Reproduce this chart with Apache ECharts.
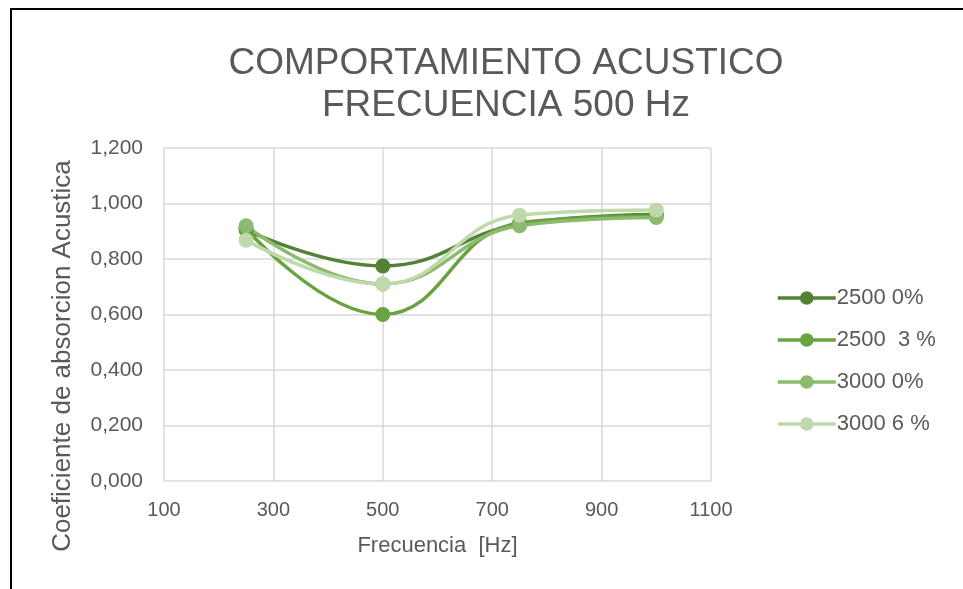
<!DOCTYPE html>
<html><head><meta charset="utf-8">
<script src="https://cdn.jsdelivr.net/npm/echarts@6/dist/echarts.min.js"></script>
<style>html,body{margin:0;padding:0;background:#fff}#c{width:963px;height:589px}</style>
</head><body><div id="c"></div>
<script>
const freqs = [250, 500, 750, 1000];
const s2500_0 = [0.905, 0.775, 0.925, 0.960];
const s2500_3 = [0.910, 0.600, 0.930, 0.955];
const s3000_0 = [0.920, 0.710, 0.920, 0.950];
const s3000_6 = [0.868, 0.710, 0.958, 0.977];
const seriesNames = ['2500 0%', '2500  3 %', '3000 0%', '3000 6 %'];
const seriesColors = ['#548235', '#68a340', '#8cbb70', '#bfd9ad'];
const seriesData = [s2500_0, s2500_3, s3000_0, s3000_6];

const chart = echarts.init(document.getElementById('c'));
const txt = '#595959';
chart.setOption({
  animation: false,
  backgroundColor: '#fff',
  title: {
    text: 'COMPORTAMIENTO ACUSTICO\nFRECUENCIA 500 Hz',
    left: 501, top: 38, textAlign: 'center',
    textStyle: {fontFamily: 'Liberation Sans', fontSize: 37, fontWeight: 'normal', color: txt, lineHeight: 42, align: 'center'}
  },
  graphic: [
    {type: 'rect', shape: {x: 11, y: 9, width: 1000, height: 700}, style: {fill: 'none', stroke: '#000', lineWidth: 2}, silent: true},
    {type: 'text', x: 63, y: 356, rotation: Math.PI / 2,
     style: {text: 'Coeficiente de absorcion Acustica', fontFamily: 'Liberation Sans', fontSize: 26, fill: txt, align: 'center', verticalAlign: 'middle'}}
  ],
  legend: {
    orient: 'vertical', left: 771, top: 282, itemGap: 20, itemWidth: 58, itemHeight: 17,
    data: seriesNames,
    lineStyle: {width: 3.5},
    textStyle: {fontFamily: 'Liberation Sans', fontSize: 22, color: txt, padding: [0, 0, 0, -4]}
  },
  grid: {left: 164, right: 252, top: 148, bottom: 108, containLabel: false},
  xAxis: {
    type: 'value', min: 100, max: 1100, interval: 200,
    name: 'Frecuencia  [Hz]', nameLocation: 'middle', nameGap: 54,
    nameTextStyle: {fontFamily: 'Liberation Sans', fontSize: 22, color: txt},
    axisLine: {show: false}, axisTick: {show: false},
    axisLabel: {fontFamily: 'Liberation Sans', fontSize: 20, color: txt, margin: 19, formatter: v => String(v)},
    splitLine: {show: true, lineStyle: {color: '#d9d9d9', width: 1.5}}
  },
  yAxis: {
    type: 'value', min: 0, max: 1.2, interval: 0.2,
    axisLine: {show: false}, axisTick: {show: false},
    axisLabel: {fontFamily: 'Liberation Sans', fontSize: 21, color: txt, margin: 21,
      formatter: v => v.toFixed(3).replace('.', ',')},
    splitLine: {show: true, lineStyle: {color: '#d9d9d9', width: 1.5}}
  },
  series: seriesNames.map((n, i) => ({
    name: n, type: 'line', smooth: 0.45,
    data: freqs.map((f, j) => [f, seriesData[i][j]]),
    symbol: 'circle', symbolSize: 15,
    lineStyle: {width: 3.5, color: seriesColors[i]},
    itemStyle: {color: seriesColors[i]}
  }))
});
</script></body></html>
